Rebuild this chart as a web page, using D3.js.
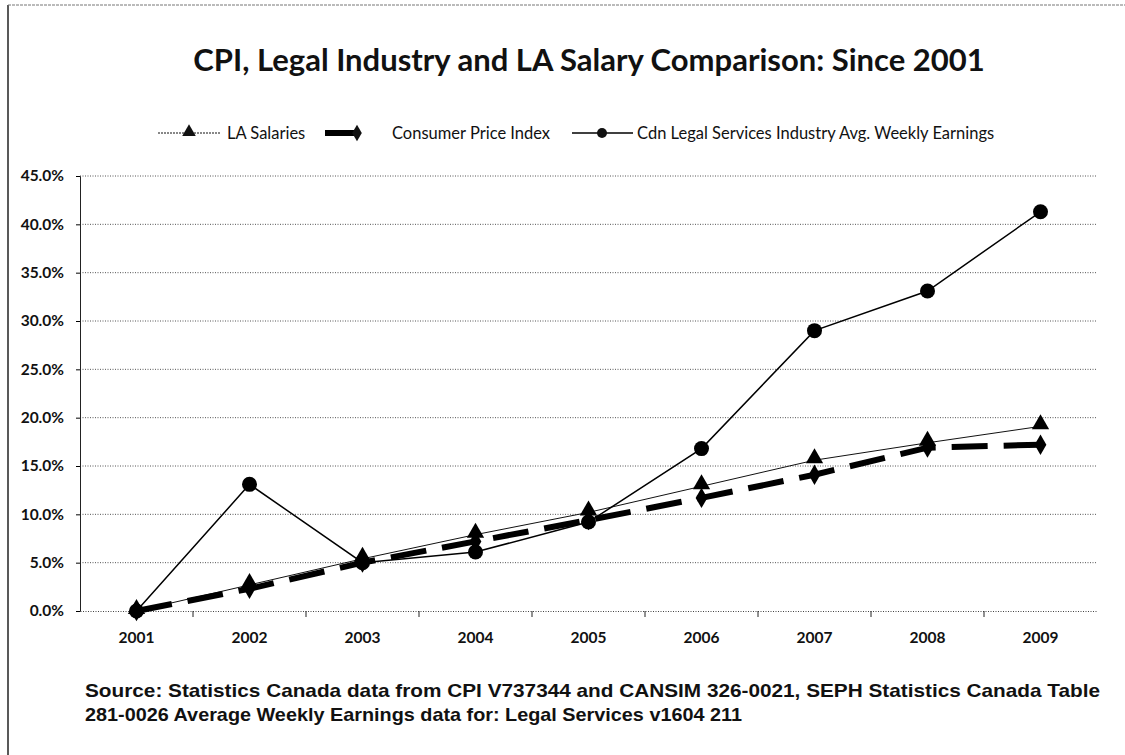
<!DOCTYPE html>
<html><head><meta charset="utf-8">
<script src="https://cdn.jsdelivr.net/npm/d3@7/dist/d3.min.js"></script>
<style>body{margin:0;background:#fff}svg{display:block}</style>
</head><body><svg id="c" width="1125" height="755"></svg>
<script>
const years = ["2001","2002","2003","2004","2005","2006","2007","2008","2009"];
const laSalaries = [0.0, 2.7, 5.4, 7.9, 10.2, 12.9, 15.6, 17.4, 19.1];
const cpi = [0.0, 2.3, 5.0, 7.2, 9.4, 11.7, 14.1, 16.9, 17.2];
const legalEarnings = [0.0, 13.1, 5.0, 6.1, 9.2, 16.8, 29.0, 33.1, 41.3];
const yTicks = [0, 5, 10, 15, 20, 25, 30, 35, 40, 45];
const seriesNames = ["LA  Salaries", "Consumer Price Index", "Cdn Legal Services Industry Avg. Weekly Earnings"];

const svg = d3.select("#c");
const L = 80, R = 1097, T = 176, B = 611;
const x = d3.scaleBand().domain(years).range([L, R]);
const y = d3.scaleLinear().domain([0, 45]).range([B, T]);
const cx = d => x(d) + x.bandwidth()/2;
const FONT = "Lato, 'Open Sans', sans-serif";

// frame
svg.append("line").attr("x1",8).attr("x2",8).attr("y1",5).attr("y2",755).attr("stroke","#222").attr("stroke-width",1.5);
svg.append("line").attr("x1",8).attr("x2",1125).attr("y1",5).attr("y2",5).attr("stroke","#777").attr("stroke-width",1).attr("stroke-dasharray","3,1");

// title
svg.append("text").attr("x",589).attr("y",71).attr("text-anchor","middle")
  .attr("font-family",FONT).attr("font-weight","bold").attr("font-size",31)
  .attr("fill","#111").text("CPI, Legal Industry and LA Salary Comparison: Since 2001");

// gridlines
svg.append("g").selectAll("line").data(yTicks.filter(d=>d>0)).join("line")
  .attr("x1",L).attr("x2",R).attr("y1",d=>y(d)).attr("y2",d=>y(d))
  .attr("stroke","#555").attr("stroke-width",1).attr("stroke-dasharray","1,1.5");

// y axis
const ya = svg.append("g").attr("transform",`translate(${L},0)`)
  .call(d3.axisLeft(y).tickValues(yTicks).tickFormat(d=>d.toFixed(1)+"%").tickSize(4).tickPadding(12));
ya.select(".domain").attr("stroke","#222");
ya.selectAll("text").attr("font-family",FONT).attr("font-size",15.5).attr("font-weight","bold").attr("fill","#111");

// x axis
const xa = svg.append("g").attr("transform",`translate(0,${B})`)
  .call(d3.axisBottom(x).tickSize(0).tickPadding(21));
xa.select(".domain").attr("stroke","#444").attr("stroke-dasharray","1,1.5");
xa.selectAll("text").attr("font-family",FONT).attr("font-size",15.5).attr("font-weight","bold").attr("fill","#111");
svg.append("g").selectAll("line").data(years.slice(1)).join("line")
  .attr("x1",d=>x(d)).attr("x2",d=>x(d)).attr("y1",B).attr("y2",B+6).attr("stroke","#222");

const line = d3.line().x((d,i)=>cx(years[i])).y(d=>y(d));

// LA salaries
svg.append("path").datum(laSalaries).attr("d",line).attr("fill","none").attr("stroke","#111").attr("stroke-width",1);
// CPI
svg.append("path").datum(cpi).attr("d",line).attr("fill","none").attr("stroke","#000").attr("stroke-width",6).attr("stroke-dasharray","36,16");
// Legal
svg.append("path").datum(legalEarnings).attr("d",line).attr("fill","none").attr("stroke","#000").attr("stroke-width",1.5);

const tri = d3.symbol().type(d3.symbolTriangle).size(130);
const dia = d3.symbol().type(d3.symbolDiamond).size(120);
svg.append("g").selectAll("path").data(cpi).join("path")
  .attr("d",dia).attr("transform",(d,i)=>`translate(${cx(years[i])},${y(d)})`).attr("fill","#000");
svg.append("g").selectAll("path").data(laSalaries).join("path")
  .attr("d",tri).attr("transform",(d,i)=>`translate(${cx(years[i])},${y(d)-2})`).attr("fill","#000");
svg.append("g").selectAll("circle").data(legalEarnings).join("circle")
  .attr("cx",(d,i)=>cx(years[i])).attr("cy",d=>y(d)).attr("r",7.5).attr("fill","#000");

// legend
const lg = svg.append("g").attr("font-family",FONT).attr("font-size",16.5).attr("fill","#111");
const ly = 133;
lg.append("line").attr("x1",158).attr("x2",220).attr("y1",ly).attr("y2",ly).attr("stroke","#111").attr("stroke-width",1).attr("stroke-dasharray","2,1");
lg.append("path").attr("d",d3.symbol().type(d3.symbolTriangle).size(80)).attr("transform",`translate(189,${ly-1})`);
lg.append("text").attr("x",227).attr("y",ly+6).text(seriesNames[0]);
lg.append("line").attr("x1",325).attr("x2",356).attr("y1",ly).attr("y2",ly).attr("stroke","#000").attr("stroke-width",6);
lg.append("path").attr("d",d3.symbol().type(d3.symbolDiamond).size(80)).attr("transform",`translate(357,${ly})`);
lg.append("text").attr("x",392).attr("y",ly+6).text(seriesNames[1]);
lg.append("line").attr("x1",572).attr("x2",633).attr("y1",ly).attr("y2",ly).attr("stroke","#000").attr("stroke-width",1.5);
lg.append("circle").attr("cx",602).attr("cy",ly).attr("r",5);
lg.append("text").attr("x",637).attr("y",ly+6).text(seriesNames[2]);

// source
const src = svg.append("g").attr("font-family","'Liberation Sans', Arial, sans-serif").attr("font-weight","bold").attr("font-size",19).attr("fill","#111");
src.append("text").attr("x",85).attr("y",697).attr("textLength",1015).attr("lengthAdjust","spacingAndGlyphs").text("Source: Statistics Canada data from CPI V737344 and CANSIM 326-0021, SEPH Statistics Canada Table");
src.append("text").attr("x",85).attr("y",721).attr("textLength",657).attr("lengthAdjust","spacingAndGlyphs").text("281-0026 Average Weekly Earnings data for: Legal Services v1604 211");
</script></body></html>
